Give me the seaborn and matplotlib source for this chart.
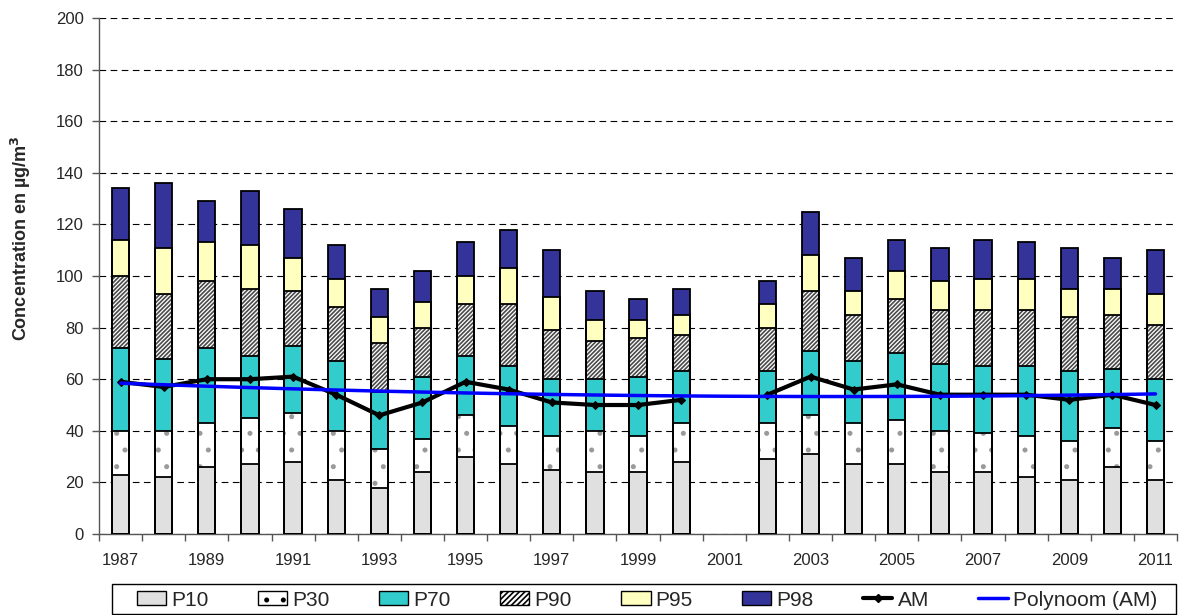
import numpy as np
import pandas as pd
import matplotlib
matplotlib.use("Agg")
import matplotlib.pyplot as plt
import seaborn as sns
from matplotlib.patches import Patch, Rectangle
from matplotlib.lines import Line2D

nan = np.nan

# percentile levels per year (µg/m³), 2001 has no data
years = list(range(1987, 2012))
p10 = [23, 22, 26, 27, 28, 21, 18, 24, 30, 27, 25, 24, 24, 28, nan, 29, 31, 27, 27, 24, 24, 22, 21, 26, 21]
p30 = [40, 40, 43, 45, 47, 40, 33, 37, 46, 42, 38, 40, 38, 43, nan, 43, 46, 43, 44, 40, 39, 38, 36, 41, 36]
p70 = [72, 68, 72, 69, 73, 67, 55, 61, 69, 65, 60, 60, 61, 63, nan, 63, 71, 67, 70, 66, 65, 65, 63, 64, 60]
p90 = [100, 93, 98, 95, 94, 88, 74, 80, 89, 89, 79, 75, 76, 77, nan, 80, 94, 85, 91, 87, 87, 87, 84, 85, 81]
p95 = [114, 111, 113, 112, 107, 99, 84, 90, 100, 103, 92, 83, 83, 85, nan, 89, 108, 94, 102, 98, 99, 99, 95, 95, 93]
p98 = [134, 136, 129, 133, 126, 112, 95, 102, 113, 118, 110, 94, 91, 95, nan, 98, 125, 107, 114, 111, 114, 113, 111, 107, 110]
am = [59, 57, 60, 60, 61, 54, 46, 51, 59, 56, 51, 50, 50, 52, nan, 54, 61, 56, 58, 54, 54, 54, 52, 54, 50]

labels = [str(y) for y in years]

sns.set_style("white")
plt.rcParams["font.family"] = ["Liberation Sans", "DejaVu Sans"]
plt.rcParams["hatch.linewidth"] = 1.2

df = pd.DataFrame({"year": labels, "P10": p10, "P30": p30, "P70": p70,
                   "P90": p90, "P95": p95, "P98": p98, "AM": am})
df["pos"] = np.arange(len(years))
df["seg"] = df["AM"].isna().cumsum()

fig, ax = plt.subplots(figsize=(11.83, 6.15), dpi=100)
fig.subplots_adjust(left=0.0837, right=0.995, top=0.9707, bottom=0.1317)

# layers drawn from the highest percentile down, each covering the one below
layers = [
    ("P98", "#333399", None, None),
    ("P95", "#FFFFC0", None, None),
    ("P90", "white", "////////", "#4A4A4A"),
    ("P70", "#33CCCC", None, None),
    ("P30", "white", ".", "#9A9A9A"),
    ("P10", "#E0E0E0", None, None),
]
bar_w = 0.4
for col, color, hatch, hcolor in layers:
    d = df.dropna(subset=[col])
    if hatch:
        sns.barplot(data=d, x="year", y=col, order=labels, color=color,
                    saturation=1, width=bar_w, errorbar=None, ax=ax,
                    hatch=hatch, edgecolor=hcolor, linewidth=0, zorder=2)
    else:
        sns.barplot(data=d, x="year", y=col, order=labels, color=color,
                    saturation=1, width=bar_w, errorbar=None, ax=ax,
                    linewidth=0, zorder=2)

# black outlines for all segments
for col, _, _, _ in layers:
    d = df.dropna(subset=[col])
    sns.barplot(data=d, x="year", y=col, order=labels, color="black",
                fill=False, width=bar_w, errorbar=None, ax=ax,
                linewidth=1.3, zorder=3)

# annual mean line (broken at missing year)
dl = df.dropna(subset=["AM"])
sns.lineplot(data=dl, x="pos", y="AM", units="seg", estimator=None,
             color="black", linewidth=3, marker="D", markersize=4,
             markeredgecolor="black", ax=ax, zorder=4)

# polynomial trend (order 2) of AM
coef = np.polyfit(dl["pos"], dl["AM"], 2)
trend = np.polyval(coef, df["pos"])
sns.lineplot(x=df["pos"], y=trend, color="#0000FF", linewidth=2.5,
             ax=ax, zorder=5)

ax.set_xlim(-0.5, len(years) - 0.5)
ax.set_ylim(0, 200)
ax.set_yticks(np.arange(0, 201, 20))
ax.yaxis.grid(True, color="black", linestyle=(0, (6, 4)), linewidth=0.8)
ax.set_axisbelow(True)

ax.set_xticks(np.arange(-0.5, len(years), 1))
ax.set_xticklabels([])
ax.set_xticks(np.arange(0, len(years), 2), minor=True)
ax.set_xticklabels(labels[::2], minor=True)
ax.tick_params(axis="x", which="major", direction="out", length=5,
               width=1, color="#555555", bottom=True)
ax.tick_params(axis="x", which="minor", length=0, pad=14, labelsize=12)
ax.tick_params(axis="y", direction="out", length=5, width=1,
               color="#555555", left=True, pad=6, labelsize=12)

for s in ["top", "right"]:
    ax.spines[s].set_visible(False)
for s in ["left", "bottom"]:
    ax.spines[s].set_color("#555555")
    ax.spines[s].set_linewidth(1)

ax.set_xlabel("")
ax.set_ylabel("Concentration en µg/m$^\\mathbf{3}$", fontsize=13,
              fontweight="bold")
ax.yaxis.set_label_coords(-0.061, 0.574)

# legend box below the plot
fig.patches.append(Rectangle((112 / 1183, 1.5 / 615), (1176 - 112) / 1183,
                             (613.5 - 584) / 615, transform=fig.transFigure,
                             facecolor="white", edgecolor="black",
                             linewidth=1, zorder=0))

handles = [
    Patch(facecolor="#E0E0E0", edgecolor="black", linewidth=1),
    Patch(facecolor="white", edgecolor="black", hatch=".", linewidth=1),
    Patch(facecolor="#33CCCC", edgecolor="black", linewidth=1),
    Patch(facecolor="white", edgecolor="black", hatch="//////", linewidth=1),
    Patch(facecolor="#FFFFC0", edgecolor="black", linewidth=1),
    Patch(facecolor="#333399", edgecolor="black", linewidth=1),
    Line2D([], [], color="black", linewidth=3, marker="D", markersize=4),
    Line2D([], [], color="#0000FF", linewidth=2.5),
]
names = ["P10", "P30", "P70", "P90", "P95", "P98", "AM", "Polynoom (AM)"]
leg = fig.legend(handles, names, loc="center left",
                 bbox_to_anchor=(137 / 1183, 1 - 600 / 615,
                                 (1157 - 137) / 1183, 0),
                 bbox_transform=fig.transFigure, mode="expand", ncol=8,
                 fontsize=15, frameon=False, handlelength=1.4,
                 handleheight=0.65, handletextpad=0.25, borderaxespad=0,
                 borderpad=0)

fig.savefig("out.png", dpi=100)
